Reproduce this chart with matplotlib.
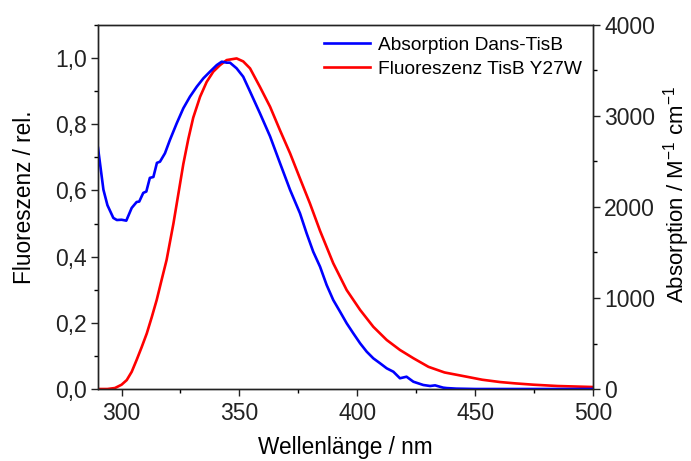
import matplotlib
matplotlib.use("Agg")
import matplotlib.pyplot as plt
from matplotlib.ticker import FuncFormatter, MultipleLocator

plt.rcParams['font.family'] = ['Liberation Sans', 'DejaVu Sans']
plt.rcParams['mathtext.fontset'] = 'custom'
plt.rcParams['mathtext.rm'] = 'Liberation Sans'
plt.rcParams['mathtext.it'] = 'Liberation Sans:italic'
plt.rcParams['mathtext.bf'] = 'Liberation Sans:bold'
plt.rcParams['axes.unicode_minus'] = False

# Fluorescence emission of TisB Y27W (relative, left axis)
fl_wavelength = [290, 294, 297.2, 300, 302.2, 304.3, 306.4, 308.5, 310.7, 312.8, 314.9, 317,
                 319.1, 322, 324.1, 326.2, 328.3, 330.4, 333.3, 336.1, 338.9, 341.8, 344.6,
                 348.8, 351.6, 354.5, 358.7, 363, 367.2, 371.5, 375.7, 379.9, 384.2, 389.8,
                 395.5, 401.2, 406.8, 412.5, 418.1, 423.8, 430.2, 437, 446.5, 453, 460.6, 467,
                 474.7, 485, 500]
fl_intensity = [0.0, 0.0, 0.003, 0.013, 0.027, 0.052, 0.088, 0.126, 0.168, 0.217, 0.269, 0.33,
                0.39, 0.50, 0.59, 0.68, 0.755, 0.82, 0.883, 0.928, 0.959, 0.979, 0.994,
                0.999, 0.99, 0.969, 0.913, 0.853, 0.782, 0.712, 0.636, 0.561, 0.478, 0.38,
                0.299, 0.239, 0.188, 0.148, 0.118, 0.093, 0.067, 0.05, 0.037, 0.028, 0.021, 0.017,
                0.013, 0.009, 0.006]

# Absorption of Dans-TisB (M^-1 cm^-1, right axis)
abs_wavelength = [290, 291, 292.3, 294, 296.5, 298, 300, 302, 304.3, 306.4, 307.5, 309.2, 310.5,
                  312, 313.5, 315, 316.3, 318.4, 320.5, 323.4, 326.2, 329, 331.9, 334.7, 337.5,
                  340.4, 342.5, 344.6, 346, 348.8, 351.6, 354.2, 358.7, 363, 367.2, 371.5,
                  375.7, 378.5, 381.3, 384.2, 387, 389.8, 392.7, 395.5, 398.3, 401.2, 404,
                  406.8, 409.7, 412.5, 415.3, 418.1, 420.9, 423.8, 428, 430.9, 433, 436.4,
                  438, 442, 450, 470, 500]
abs_value = [2650, 2450, 2190, 2020, 1880, 1857, 1860, 1850, 1990, 2055, 2060, 2155, 2170,
             2320, 2330, 2485, 2498, 2590, 2736, 2920, 3085, 3212, 3322, 3414, 3487,
             3560, 3597, 3586, 3586, 3524, 3432, 3286, 3030, 2776, 2483, 2187,
             1930, 1711, 1509, 1344, 1143, 978, 849, 722, 612, 502, 410,
             337, 282, 227, 190, 118, 135, 80, 44, 33, 40, 15,
             10, 4, 0, 0, 0]

xticks = [300, 350, 400, 450, 500]

fig = plt.figure(figsize=(6.91, 4.61), dpi=100)
ax = fig.add_axes([98 / 691, 1 - 389 / 461, (593 - 98) / 691, (389 - 25) / 461])
ax2 = ax.twinx()

lw = 1.9
l1, = ax2.plot(abs_wavelength, abs_value, color='#0000ff', lw=lw, label='Absorption Dans-TisB')
l2, = ax.plot(fl_wavelength, fl_intensity, color='#ff0000', lw=lw, label='Fluoreszenz TisB Y27W')

ax.set_xlim(290, 500)
ax.set_ylim(0, 1.1)
ax2.set_ylim(0, 4000)

ax.set_xticks(xticks)
ax.xaxis.set_minor_locator(MultipleLocator(25))
ax.yaxis.set_major_locator(MultipleLocator(0.2))
ax.yaxis.set_minor_locator(MultipleLocator(0.1))
ax.yaxis.set_major_formatter(FuncFormatter(lambda v, p: f"{v:.1f}".replace('.', ',')))
ax2.yaxis.set_major_locator(MultipleLocator(1000))
ax2.yaxis.set_minor_locator(MultipleLocator(500))

for a in (ax, ax2):
    a.tick_params(which='major', direction='out', length=5, width=1.0, labelsize=16.5,
                  colors='#222222')
    a.tick_params(which='minor', direction='out', length=3, width=1.0)
    for s in a.spines.values():
        s.set_linewidth(1.0)
        s.set_color('#222222')
ax.tick_params(axis='y', pad=3)
ax2.tick_params(axis='y', pad=3)
ax.tick_params(axis='x', pad=4)

ax.set_xlabel('Wellenlänge / nm', fontsize=16.3, labelpad=8)
ax.set_ylabel('Fluoreszenz / rel.', fontsize=16.3, labelpad=14)
ax2.set_ylabel('Absorption / M$^{-1}$ cm$^{-1}$', fontsize=16, labelpad=4)
ax.yaxis.label.set_y(0.527)
ax2.yaxis.label.set_y(0.533)

ax2.legend(handles=[l1, l2], loc='upper right', frameon=False, fontsize=13.8,
           handlelength=2.4, handletextpad=0.4, borderaxespad=0.2, labelspacing=0.35)

fig.savefig('out.png', dpi=100)
